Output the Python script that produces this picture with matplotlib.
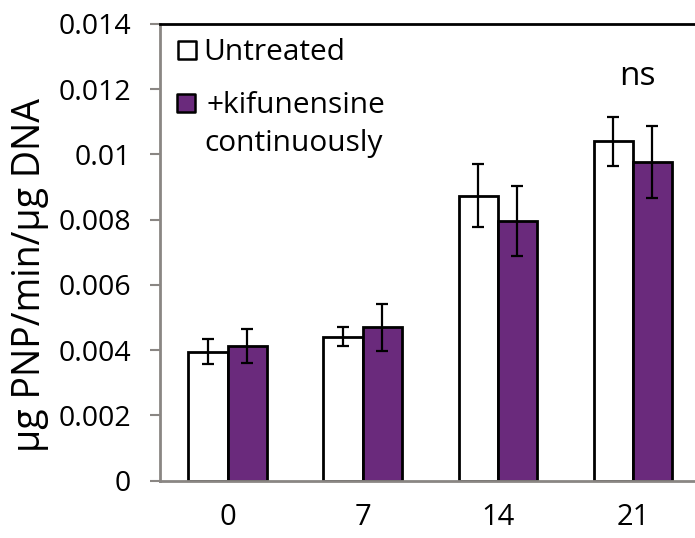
import numpy as np
import matplotlib.pyplot as plt

# data
days = ["0", "7", "14", "21"]
untreated = [0.00396, 0.00442, 0.00874, 0.01040]
untreated_err = [0.00039, 0.00030, 0.00097, 0.00074]
kif = [0.00413, 0.00471, 0.00797, 0.00977]
kif_err = [0.00052, 0.00072, 0.00107, 0.00110]
labels = ["Untreated", "+kifunensine\ncontinuously"]

purple = "#6a2a7c"
grey = "#8a8683"
plt.rcParams['font.family'] = ['Open Sans', 'DejaVu Sans']

fig = plt.figure(figsize=(6.95, 5.38), dpi=100)
ax = fig.add_axes([160/695, 57.3/538, 535/695, 456.7/538])

x = np.arange(len(days))
w = 0.29
errkw = dict(ecolor="black", elinewidth=1.6, capsize=4, capthick=1.6)
ax.bar(x - w/2, untreated, w, yerr=untreated_err, color="white",
       edgecolor="black", linewidth=2, error_kw=errkw, label=labels[0])
ax.bar(x + w/2, kif, w, yerr=kif_err, color=purple,
       edgecolor="black", linewidth=2, error_kw=errkw, label=labels[1])

ax.set_xlim(-0.5, 3.46)
ax.set_ylim(0, 0.014)
ax.set_yticks(np.arange(0, 0.0141, 0.002))
ax.set_yticklabels(["0", "0.002", "0.004", "0.006", "0.008", "0.01", "0.012", "0.014"])
ax.set_xticks(x)
ax.set_xticklabels(days)

ax.spines["right"].set_visible(False)
ax.spines["top"].set_color("black")
ax.spines["top"].set_linewidth(2)
for s in ["left", "bottom"]:
    ax.spines[s].set_color(grey)
    ax.spines[s].set_linewidth(2)
ax.tick_params(axis="y", direction="out", length=7, width=1.5, color=grey,
               labelsize=20.5, pad=14)
ax.tick_params(axis="x", length=0, labelsize=21, pad=16)
ax.set_ylabel("µg PNP/min/µg DNA", fontsize=27)
ax.yaxis.set_label_coords(-0.207, 0.45)

# legend drawn by hand so the box sits beside the first line
ax.scatter([0.051], [0.943], s=150, marker="s", facecolor="white",
           edgecolor="black", linewidth=1.8, transform=ax.transAxes, clip_on=False)
ax.scatter([0.049], [0.827], s=150, marker="s", facecolor=purple,
           edgecolor="black", linewidth=1.8, transform=ax.transAxes, clip_on=False)
ax.text(0.081, 0.921, labels[0], transform=ax.transAxes, fontsize=21.5, va="baseline")
ax.text(0.086, 0.805, "+kifunensine", transform=ax.transAxes, fontsize=21.5, va="baseline")
ax.text(0.083, 0.722, "continuously", transform=ax.transAxes, fontsize=21.5, va="baseline")

ax.text(3.03, 0.0124, "ns", fontsize=24, ha="center", va="center")

fig.savefig("out.png", dpi=100)
